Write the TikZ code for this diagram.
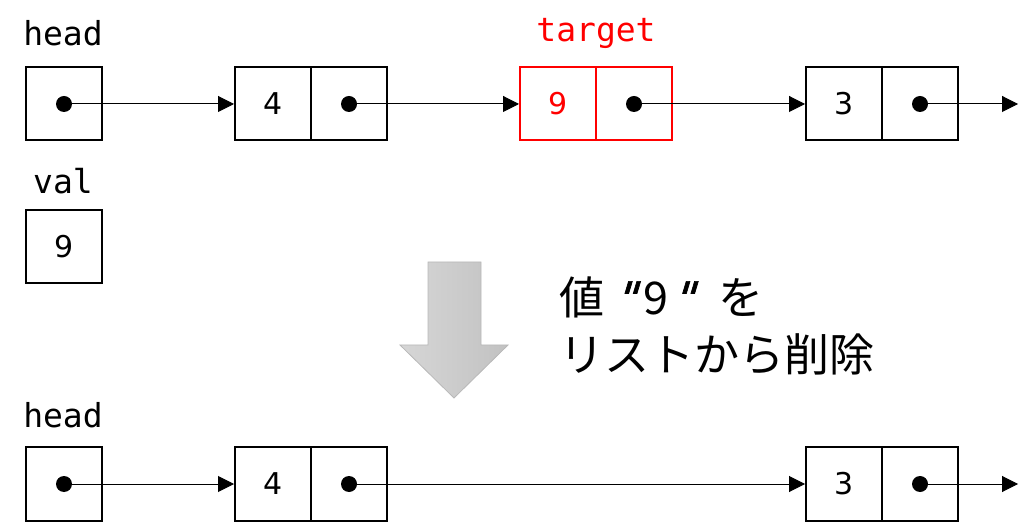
\documentclass[tikz,border=0pt]{standalone}
\usepackage{fontspec}
\setmainfont{DejaVu Sans}
\setmonofont{DejaVu Sans Mono}
\newfontfamily\jpfont{Noto Sans CJK JP}
\newfontfamily\quotefont[FakeSlant=0.3,FakeBold=1.5]{DejaVu Sans}
\usetikzlibrary{arrows.meta}

\tikzset{
  cell/.style={draw, line width=1pt, minimum width=38pt, minimum height=36.5pt,
    inner sep=0pt, font=\fontsize{15}{17}\selectfont},
  ptr/.style={circle, fill=black, inner sep=0pt, minimum size=8pt},
  lbl/.style={font=\ttfamily\fontsize{16.5}{19}\selectfont},
  link/.style={-{Triangle[length=8pt,width=8pt]}, line width=0.5pt},
}

\begin{document}
\begin{tikzpicture}[x=0.5pt,y=-0.5pt]
            \useasboundingbox (0,0) rectangle (1036,522);

            % before
            \node[lbl] (head) at (63,33) {head};
            \node[cell] (hbox) at (64,104) {};
            \node[ptr] (hdot) at (hbox.center) {};

            \node[cell] (av) at (273,104) {4};
            \node[cell] (ap) at (349,104) {};
            \node[ptr] (adot) at (ap.center) {};

            \node[lbl, red] (target) at (596,33) {target};
            \node[cell, red] (bv) at (558,104) {9};
            \node[cell, red] (bp) at (634,104) {};
            \node[ptr] (bdot) at (bp.center) {};

            \node[cell] (cv) at (844,104) {3};
            \node[cell] (cp) at (920,104) {};
            \node[ptr] (cdot) at (cp.center) {};
            \coordinate (cend) at (1018,104);

            \draw[link] (hdot.center) -- (av.west);
            \draw[link] (adot.center) -- (bv.west);
            \draw[link] (bdot.center) -- (cv.west);
            \draw[link] (cdot.center) -- (cend);

            \node[lbl] (val) at (63,181) {val};
            \node[cell] (vbox) at (64,247) {9};

            % big arrow
            \draw[draw=black!28, left color=black!16, right color=black!24]
              (428,262) -- (481,262) -- (481,345) -- (508,345) -- (454,398)
              -- (400,345) -- (428,345) -- cycle;
            \node[anchor=north west, align=left, inner sep=0pt,
              font=\jpfont\fontsize{22.5}{28.5}\selectfont] (msg) at (559,276)
              {値\hspace{5pt}{\quotefont"}\hspace{4pt}9\hspace{2pt}{\quotefont"}\hspace{13pt}を\\リストから削除};

            % after
            \node[lbl] (head2) at (63,415) {head};
            \node[cell] (hbox2) at (64,484) {};
            \node[ptr] (hdot2) at (hbox2.center) {};

            \node[cell] (av2) at (273,484) {4};
            \node[cell] (ap2) at (349,484) {};
            \node[ptr] (adot2) at (ap2.center) {};

            \node[cell] (cv2) at (844,484) {3};
            \node[cell] (cp2) at (920,484) {};
            \node[ptr] (cdot2) at (cp2.center) {};
            \coordinate (cend2) at (1018,484);

            \draw[link] (hdot2.center) -- (av2.west);
            \draw[link] (adot2.center) -- (cv2.west);
            \draw[link] (cdot2.center) -- (cend2);

        \end{tikzpicture}
\end{document}
